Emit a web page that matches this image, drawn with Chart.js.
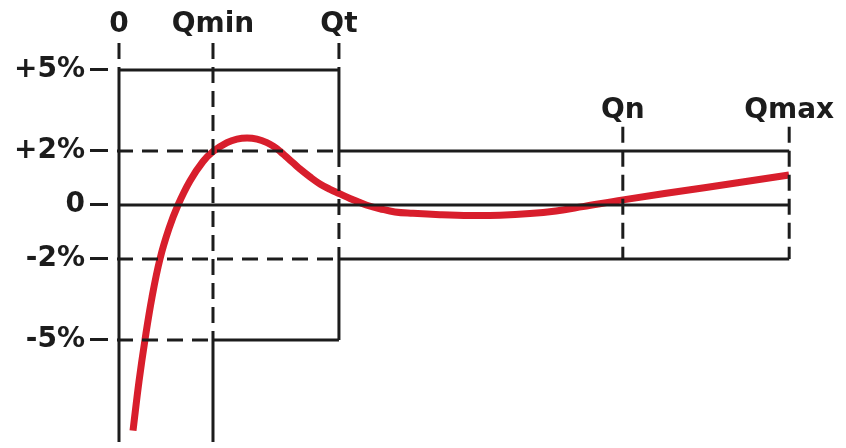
<!DOCTYPE html>
<html>
<head>
<meta charset="utf-8">
<script src="https://cdn.jsdelivr.net/npm/chart.js@4"></script>
<style>
  html, body { margin: 0; padding: 0; background: #fff; }
  canvas { display: block; }
</style>
</head>
<body>
<canvas id="errChart" width="846" height="448"></canvas>
<script>
// flow points along the x axis
const flowLabels = ['0', 'Qmin', 'Qt', 'Qn', 'Qmax'];
const flowPoints = [0, 1, 2.34, 5.36, 7.13];

// error ticks on the y axis (%)
const errTicks = [5, 2, 0, -2, -5];
const errLabels = ['+5%', '+2%', '0', '-2%', '-5%'];

const curveFlow = [
    0.149, 0.213, 0.277, 0.351, 0.436, 0.532, 0.628, 0.755, 0.894, 1.0,
    1.149, 1.255, 1.362, 1.468, 1.574, 1.649, 1.713, 1.787, 1.862, 1.926,
    2.032, 2.138, 2.245, 2.351, 2.457, 2.564, 2.638, 2.777, 2.936, 3.128,
    3.415, 3.734, 4.053, 4.372, 4.649, 4.936, 5.362, 6.245, 7.128
];
const curveError = [
    -8.36, -6.53, -4.98, -3.42, -2.0, -0.87, 0, 0.89, 1.61, 1.98,
    2.31, 2.44, 2.48, 2.44, 2.31, 2.16, 1.99, 1.76, 1.53, 1.33,
    1.04, 0.78, 0.58, 0.41, 0.24, 0.09, -0.01, -0.14, -0.26, -0.31,
    -0.36, -0.39, -0.38, -0.32, -0.22, -0.06, 0.19, 0.65, 1.11
];

const [q0, qMin, qT, qN, qMax] = flowPoints;
const X_MIN = -0.117, X_MAX = 7.628;
const Y_MIN = -8.78, Y_MAX = 6.0;
const INK = '#1c1c1c';

// join segments into one dataset, broken by gaps
function segs(list) {
    const out = [];
    list.forEach(s => {
        out.push({ x: s[0], y: s[1] }, { x: s[2], y: s[3] }, { x: s[2], y: null });
    });
    return out;
}

const solidLines = segs([
    [q0, 5, qT, 5],
    [qT, 5, qT, 2],
    [qT, 2, qMax, 2],
    [q0, 0, qMax, 0],
    [qT, -2, qMax, -2],
    [qT, -2, qT, -5],
    [qMin, -5, qT, -5],
    [q0, 5, q0, Y_MIN],
    [qMin, -5, qMin, Y_MIN]
]);

const dashedV = segs([
    [q0, Y_MAX, q0, 5],
    [qMin, Y_MAX, qMin, -5],
    [qT, Y_MAX, qT, 5],
    [qT, 2, qT, -2],
    [qN, 2.9, qN, -2],
    [qMax, 2.9, qMax, -2]
]);

const dashedH = segs([
    [X_MIN, 2, qT, 2],
    [X_MIN, -2, qT, -2],
    [X_MIN, -5, qMin, -5]
]);

const font = { family: 'DejaVu Sans', size: 28, weight: 'bold' };

new Chart(document.getElementById('errChart'), {
    type: 'line',
    data: {
        datasets: [
            {
                data: solidLines, borderColor: INK, borderWidth: 3,
                pointRadius: 0, spanGaps: false, tension: 0
            },
            {
                data: dashedV, borderColor: INK, borderWidth: 3, borderDash: [16, 8],
                pointRadius: 0, spanGaps: false, tension: 0
            },
            {
                data: dashedH, borderColor: INK, borderWidth: 3, borderDash: [16, 9], borderDashOffset: 16,
                pointRadius: 0, spanGaps: false, tension: 0
            },
            {
                data: curveFlow.map((v, i) => ({ x: v, y: curveError[i] })),
                borderColor: '#d81e2c', borderWidth: 7, tension: 0.4, pointRadius: 0
            }
        ]
    },
    options: {
        responsive: false,
        animation: false,
        events: [],
        layout: { padding: { left: 9, right: 10, top: 7, bottom: 6 } },
        plugins: { legend: { display: false }, tooltip: { enabled: false } },
        scales: {
            x: {
                type: 'linear', position: 'top', min: X_MIN, max: X_MAX,
                grid: { display: false, drawTicks: false, tickLength: 0 }, border: { display: false },
                afterBuildTicks: (scale) => { scale.ticks = flowPoints.slice(0, 3).map(v => ({ value: v })); },
                ticks: {
                    autoSkip: false, maxRotation: 0, padding: 1.2, color: INK, font: font,
                    callback: (v) => flowLabels[flowPoints.indexOf(v)]
                }
            },
            xn: {
                type: 'linear', position: { y: 4.13 }, min: X_MIN, max: X_MAX,
                grid: { display: false, drawTicks: false, tickLength: 0 }, border: { display: false },
                afterBuildTicks: (scale) => { scale.ticks = flowPoints.slice(3).map(v => ({ value: v })); },
                ticks: {
                    autoSkip: false, maxRotation: 0, padding: 0, color: INK, font: font,
                    callback: (v) => flowLabels[flowPoints.indexOf(v)]
                }
            },
            y: {
                type: 'linear', position: 'left', min: Y_MIN, max: Y_MAX,
                border: { display: false },
                grid: { drawOnChartArea: false, drawTicks: true, tickLength: 18, color: INK, lineWidth: 3 },
                afterBuildTicks: (scale) => { scale.ticks = errTicks.map(v => ({ value: v })); },
                ticks: {
                    autoSkip: false, padding: 5, color: INK,
                    font: { family: 'DejaVu Sans', size: 28, weight: 'bold', lineHeight: 0.05 },
                    callback: (v) => errLabels[errTicks.indexOf(v)]
                }
            }
        }
    }
});
</script>
</body>
</html>
